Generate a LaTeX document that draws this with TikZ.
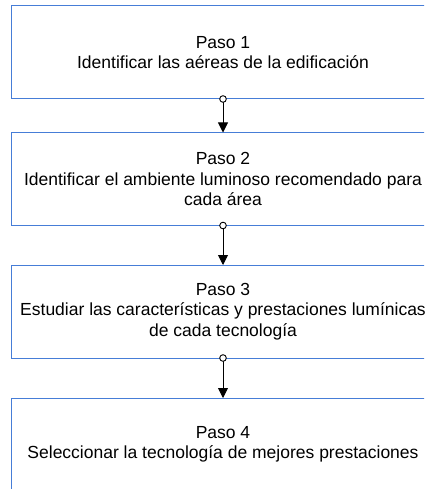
\documentclass[tikz,border=0pt]{standalone}
\usepackage{fontspec}
\setmainfont{Liberation Sans}
\usetikzlibrary{arrows.meta}
\definecolor{bordepaso}{RGB}{70,125,215}
\begin{document}
\begin{tikzpicture}[x=1pt, y=-1pt, font=\fontsize{17.5}{20.5}\selectfont,
  paso/.style={draw=bordepaso, line width=1pt, minimum width=423pt, minimum height=93pt, align=center, inner sep=0pt, outer sep=0pt},
  enlace/.style={line width=0.9pt, {Circle[open, length=7.5pt, width=7.5pt, fill=white]}-{Triangle[length=10pt, width=10pt]}}]
\clip (0,0) rectangle (424,489);
\node[paso] (p1) at (223,52.5) {Paso 1\\Identificar las aéreas de la edificación};
\node[paso] (p2) at (223,179) {Paso 2\\Identificar el ambiente luminoso recomendado para\\cada área};
\node[paso] (p3) at (223,311.5) {Paso 3\\Estudiar las características y prestaciones lumínicas\\de cada tecnología};
\node[paso] (p4) at (223,444.5) {Paso 4\\Seleccionar la tecnología de mejores prestaciones};
\foreach \a/\b in {p1/p2,p2/p3,p3/p4}
  \draw[enlace] ([yshift=3.75pt]\a.south) -- (\b.north);
\end{tikzpicture}
\end{document}
